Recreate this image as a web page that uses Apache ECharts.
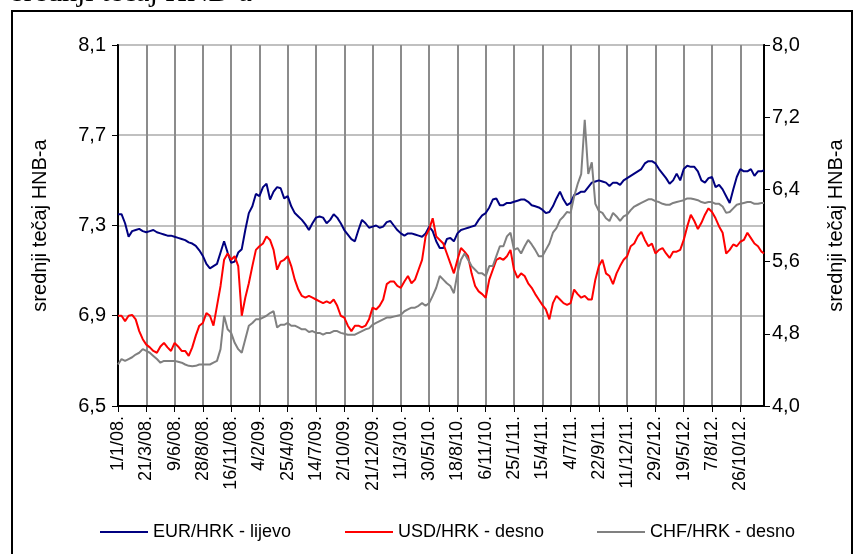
<!DOCTYPE html>
<html>
<head>
<meta charset="utf-8">
<script src="https://cdn.jsdelivr.net/npm/echarts@6/dist/echarts.min.js"></script>
<style>
    html, body { margin: 0; padding: 0; background: #fff; }
    #main { width: 856px; height: 554px; }
</style>
</head>
<body>
<div id="main"></div>
<script type="text/javascript">
    // day offsets from 1/1/2008, one sample every 10 days
    var days = [];
    for (var d = 0; d <= 1820; d += 10) { days.push(d); }
    days.push(1827);

    // EUR/HRK - lijevo (left axis)
    var eur = [
        7.35, 7.35, 7.31, 7.25, 7.275, 7.28, 7.285, 7.275, 7.27, 7.275,
        7.28, 7.27, 7.265, 7.26, 7.255, 7.255, 7.25, 7.245, 7.24, 7.235,
        7.225, 7.22, 7.21, 7.19, 7.165, 7.13, 7.11, 7.12, 7.13, 7.18,
        7.23, 7.18, 7.135, 7.14, 7.18, 7.195, 7.28, 7.355, 7.385, 7.44,
        7.43, 7.47, 7.485, 7.415, 7.45, 7.47, 7.465, 7.42, 7.43, 7.385,
        7.355, 7.34, 7.325, 7.305, 7.28, 7.31, 7.335, 7.34, 7.335, 7.31,
        7.325, 7.35, 7.335, 7.31, 7.28, 7.26, 7.24, 7.23, 7.28, 7.325,
        7.31, 7.29, 7.295, 7.30, 7.29, 7.295, 7.315, 7.32, 7.30, 7.28,
        7.265, 7.255, 7.265, 7.265, 7.26, 7.255, 7.25, 7.265, 7.295, 7.275,
        7.23, 7.20, 7.20, 7.24, 7.245, 7.23, 7.265, 7.28, 7.285, 7.29,
        7.295, 7.30, 7.325, 7.345, 7.355, 7.38, 7.415, 7.42, 7.39, 7.39,
        7.40, 7.40, 7.405, 7.41, 7.415, 7.415, 7.405, 7.39, 7.385, 7.38,
        7.37, 7.355, 7.36, 7.385, 7.42, 7.45, 7.415, 7.39, 7.40, 7.435,
        7.44, 7.45, 7.45, 7.47, 7.49, 7.495, 7.50, 7.495, 7.49, 7.475,
        7.49, 7.49, 7.48, 7.50, 7.51, 7.52, 7.53, 7.54, 7.55, 7.575,
        7.585, 7.585, 7.575, 7.55, 7.53, 7.51, 7.485, 7.50, 7.53, 7.50,
        7.55, 7.565, 7.56, 7.56, 7.54, 7.50, 7.49, 7.51, 7.515, 7.47,
        7.48, 7.46, 7.43, 7.40, 7.46, 7.515, 7.55, 7.54, 7.54, 7.55,
        7.52, 7.54, 7.54, 7.545
    ];

    // USD/HRK - desno (right axis)
    var usd = [
        5.00, 5.00, 4.94, 5.00, 5.01, 4.96, 4.83, 4.74, 4.68, 4.65,
        4.61, 4.59, 4.66, 4.70, 4.65, 4.61, 4.70, 4.66, 4.61, 4.61,
        4.555, 4.65, 4.78, 4.89, 4.92, 5.03, 5.00, 4.89, 5.11, 5.33,
        5.62, 5.69, 5.62, 5.66, 5.55, 5.00, 5.20, 5.36, 5.55, 5.73,
        5.77, 5.80, 5.88, 5.84, 5.73, 5.51, 5.60, 5.62, 5.66, 5.55,
        5.40, 5.29, 5.22, 5.20, 5.22, 5.20, 5.18, 5.16, 5.14, 5.16,
        5.14, 5.18, 5.11, 5.00, 4.98, 4.89, 4.83, 4.89, 4.89, 4.87,
        4.89, 4.96, 5.09, 5.07, 5.11, 5.18, 5.35, 5.38, 5.38, 5.33,
        5.31, 5.38, 5.44, 5.36, 5.40, 5.51, 5.62, 5.88, 5.96, 6.08,
        5.88, 5.84, 5.80, 5.69, 5.58, 5.47, 5.62, 5.75, 5.71, 5.66,
        5.47, 5.33, 5.27, 5.24, 5.20, 5.40, 5.51, 5.62, 5.64, 5.62,
        5.66, 5.73, 5.51, 5.42, 5.47, 5.44, 5.36, 5.31, 5.24, 5.18,
        5.12, 5.07, 4.96, 5.14, 5.22, 5.18, 5.14, 5.12, 5.14, 5.29,
        5.24, 5.20, 5.22, 5.18, 5.18, 5.40, 5.55, 5.62, 5.47, 5.44,
        5.35, 5.47, 5.55, 5.62, 5.66, 5.77, 5.80, 5.88, 5.93, 5.84,
        5.77, 5.80, 5.69, 5.73, 5.75, 5.69, 5.64, 5.71, 5.71, 5.73,
        5.84, 5.99, 6.12, 6.05, 5.96, 6.03, 6.12, 6.19, 6.15, 6.08,
        5.99, 5.92, 5.69, 5.73, 5.79, 5.77, 5.82, 5.84, 5.92, 5.86,
        5.80, 5.77, 5.71, 5.69
    ];

    // CHF/HRK - desno (right axis)
    var chf = [
        4.46, 4.52, 4.50, 4.52, 4.54, 4.57, 4.59, 4.63, 4.61, 4.59,
        4.555, 4.52, 4.48, 4.50, 4.50, 4.50, 4.50, 4.49, 4.48, 4.46,
        4.445, 4.44, 4.445, 4.46, 4.46, 4.46, 4.46, 4.48, 4.50, 4.63,
        5.00, 4.85, 4.81, 4.70, 4.63, 4.59, 4.74, 4.89, 4.92, 4.96,
        4.96, 4.98, 5.00, 5.03, 5.05, 4.87, 4.90, 4.90, 4.92, 4.89,
        4.89, 4.87, 4.85, 4.85, 4.82, 4.83, 4.81, 4.81, 4.79, 4.81,
        4.81, 4.83, 4.83, 4.81, 4.80, 4.79, 4.79, 4.79, 4.81, 4.83,
        4.85, 4.86, 4.90, 4.92, 4.94, 4.96, 4.98, 4.98, 4.99, 5.00,
        5.01, 5.05, 5.07, 5.09, 5.09, 5.11, 5.14, 5.11, 5.14, 5.22,
        5.31, 5.44, 5.40, 5.36, 5.33, 5.25, 5.47, 5.62, 5.69, 5.62,
        5.55, 5.51, 5.47, 5.47, 5.44, 5.55, 5.55, 5.66, 5.77, 5.77,
        5.88, 5.92, 5.73, 5.75, 5.69, 5.77, 5.84, 5.79, 5.73, 5.66,
        5.66, 5.73, 5.80, 5.92, 5.97, 6.06, 6.10, 6.15, 6.14, 6.32,
        6.46, 6.57, 7.17, 6.57, 6.70, 6.24, 6.16, 6.14, 6.08, 6.05,
        6.14, 6.10, 6.05, 6.10, 6.12, 6.17, 6.21, 6.23, 6.25, 6.27,
        6.29, 6.29, 6.27, 6.26, 6.24, 6.23, 6.23, 6.25, 6.26, 6.27,
        6.28, 6.30, 6.30, 6.29, 6.28, 6.26, 6.25, 6.26, 6.26, 6.24,
        6.24, 6.21, 6.14, 6.15, 6.19, 6.23, 6.24, 6.25, 6.26, 6.26,
        6.24, 6.24, 6.25, 6.25
    ];

    var names = ['EUR/HRK - lijevo', 'USD/HRK - desno', 'CHF/HRK - desno'];
    var colors = ['#000080', '#ff0000', '#808080'];

    function pairs(vals) {
        return days.map(function (d, i) { return [d, vals[i]]; });
    }
    function comma(v) {
        return v.toFixed(1).replace('.', ',');
    }
    function dayLabel(v) {
        var dt = new Date(Date.UTC(2008, 0, 1) + v * 86400000);
        return dt.getUTCDate() + '/' + (dt.getUTCMonth() + 1) + '/' +
            String(dt.getUTCFullYear()).slice(2) + '.';
    }

    var font = 'Liberation Sans, Arial, sans-serif';
    var myChart = echarts.init(document.getElementById('main'));
    var option = {
        animation: false,
        backgroundColor: '#fff',
        textStyle: { fontFamily: font, color: '#000' },
        graphic: [
            {
                type: 'rect',
                shape: { x: 12, y: 11, width: 840, height: 560 },
                style: { fill: 'none', stroke: '#000', lineWidth: 2 }
            },
            {
                type: 'text',
                left: 12, top: -22,
                style: {
                    text: 'srednji tečaj HNB-a',
                    font: '30px "Liberation Serif", "Times New Roman", serif',
                    fill: '#000'
                }
            }
        ],
        legend: [0, 1, 2].map(function (i) {
            return {
                data: [names[i]],
                left: [95, 340, 592][i],
                top: 518,
                icon: 'rect',
                itemWidth: 48,
                itemHeight: 2,
                textStyle: { fontSize: 18, fontFamily: font, color: '#000' }
            };
        }),
        grid: {
            left: 118, right: 92, top: 45, bottom: 148,
            outerBoundsMode: 'none',
            containLabel: false,
            show: true, borderColor: '#000', borderWidth: 2
        },
        xAxis: {
            type: 'value',
            min: 0, max: 1827, interval: 80,
            axisLine: { show: true, lineStyle: { color: '#000', width: 2 } },
            axisTick: { show: true, length: 6, lineStyle: { color: '#000', width: 1 } },
            splitLine: { show: true, lineStyle: { color: '#8c8c8c', width: 2 } },
            axisLabel: {
                rotate: 90, margin: 10, fontSize: 18, color: '#000',
                showMaxLabel: false,
                formatter: dayLabel
            }
        },
        yAxis: [{
            type: 'value',
            min: 6.5, max: 8.1, interval: 0.4,
            name: 'srednji tečaj HNB-a',
            nameLocation: 'middle', nameGap: 68, nameRotate: 90,
            nameTextStyle: { fontSize: 20, color: '#000' },
            axisLine: { show: true, lineStyle: { color: '#000', width: 2 } },
            axisTick: { show: true, length: 6, lineStyle: { color: '#000', width: 1 } },
            splitLine: { show: true, lineStyle: { color: '#c0c0c0', width: 2 } },
            axisLabel: { fontSize: 20, margin: 12, color: '#000', formatter: comma }
        }, {
            type: 'value',
            position: 'right',
            min: 4, max: 8, interval: 0.8,
            name: 'srednji tečaj HNB-a',
            nameLocation: 'middle', nameGap: 62, nameRotate: 90,
            nameTextStyle: { fontSize: 20, color: '#000' },
            axisLine: { show: true, lineStyle: { color: '#000', width: 2 } },
            axisTick: { show: true, length: 6, lineStyle: { color: '#000', width: 1 } },
            splitLine: { show: false },
            axisLabel: { fontSize: 20, margin: 8, color: '#000', formatter: comma }
        }],
        series: [
            { name: names[0], type: 'line', yAxisIndex: 0, data: pairs(eur) },
            { name: names[1], type: 'line', yAxisIndex: 1, data: pairs(usd) },
            { name: names[2], type: 'line', yAxisIndex: 1, data: pairs(chf) }
        ].map(function (s, i) {
            s.symbol = 'none';
            s.showSymbol = false;
            s.color = colors[i];
            s.lineStyle = { color: colors[i], width: 2 };
            return s;
        })
    };
    myChart.setOption(option);
</script>
</body>
</html>
